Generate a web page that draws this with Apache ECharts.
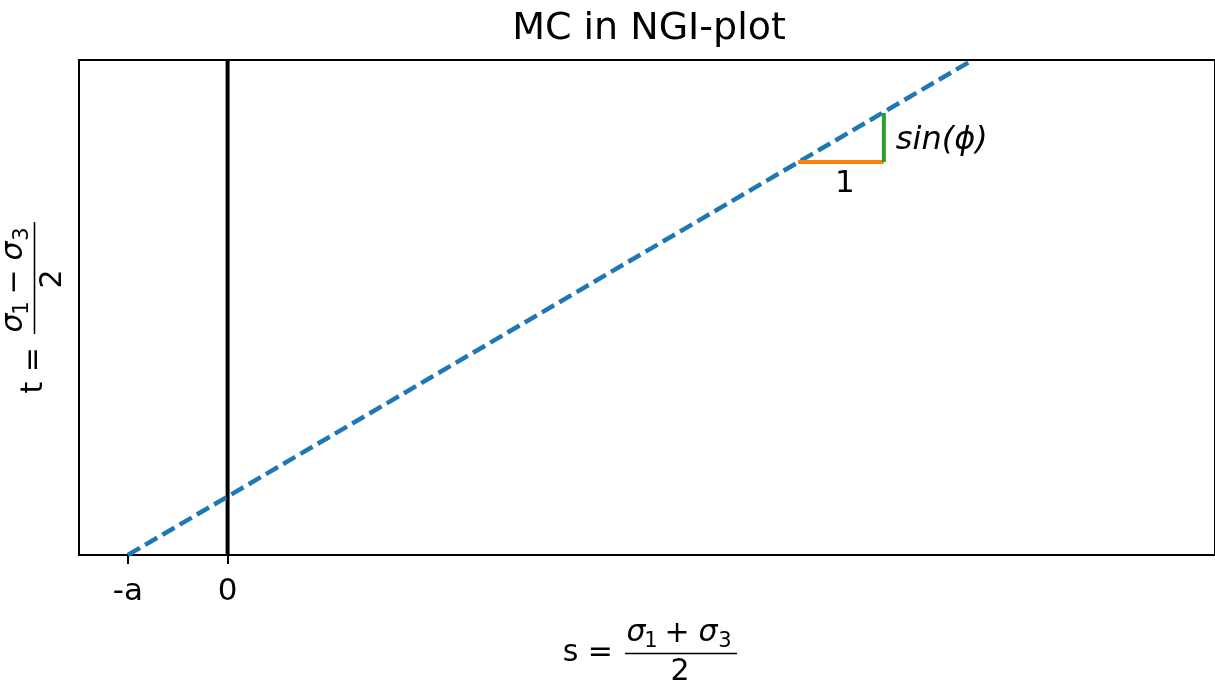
<!DOCTYPE html>
<html><head><meta charset="utf-8">
<script src="https://cdn.jsdelivr.net/npm/echarts@6/dist/echarts.min.js"></script>
<style>html,body{margin:0;padding:0;background:#fff}#c{width:1215px;height:683px}</style>
</head><body><div id="c"></div>
<script>
// ---- data ----
const titleText = 'MC in NGI-plot';
const xTickValues = [-1, 0];
const xTickLabels = ['-a', '0'];
const mcLine = [[-1, 0], [7.47, 4.95]];          // t = (s + a)·sin(phi), dashed
const zeroLine = [[0, 0], [0, 4.95]];            // s = 0
const runSegment = [[5.72, 3.93], [6.58, 3.93]]; // horizontal leg "1"
const riseSegment = [[6.58, 3.93], [6.58, 4.42]];// vertical leg "sin(phi)"
const runLabel = { value: [6.19, 3.93], text: '1' };
const riseLabel = { value: [6.58, 4.14], text: 'sin(ϕ)' };
const xNameParts = { lhs: 's =', op: '+' };
const yNameParts = { lhs: 't =', op: '−' };

const FONT = 'DejaVu Sans';
const FS = 30;

// builds the children of a "lhs = (σ1 op σ3)/2" label around the fraction bar centre (0,0)
function fractionChildren(parts, lhsRight) {
  const base = { fontFamily: FONT, fill: '#000', align: 'center', verticalAlign: 'middle' };
  const t = (x, y, text, extra) => ({ type: 'text', x, y, style: Object.assign({}, base, { text, fontSize: FS }, extra || {}) });
  return [
    t(lhsRight, 0, parts.lhs, { align: 'right' }),
    t(-45, -20, 'σ', { fontStyle: 'italic' }),
    t(-30, -12, '1', { fontSize: 21 }),
    t(-4, -19, parts.op),
    t(27, -20, 'σ', { fontStyle: 'italic' }),
    t(44, -12, '3', { fontSize: 21 }),
    { type: 'line', shape: { x1: -56, y1: 0, x2: 56, y2: 0 }, style: { stroke: '#000', lineWidth: 1.6 } },
    t(-1, 19, '2')
  ];
}

const chart = echarts.init(document.getElementById('c'), null, { renderer: 'canvas' });

chart.setOption({
  animation: false,
  backgroundColor: '#fff',
  title: {
    text: titleText, left: 644, top: 5, textAlign: 'center',
    textStyle: { fontFamily: FONT, fontSize: 38, fontWeight: 'normal', color: '#000' }
  },
  grid: { left: 79, top: 60, right: -3, bottom: 128, show: true, borderColor: '#000', borderWidth: 2, backgroundColor: 'transparent' },
  xAxis: {
    type: 'value', min: -1.49, max: 9.9,
    splitLine: { show: false },
    axisLine: { show: true, onZero: false, lineStyle: { color: '#000', width: 2 } },
    axisTick: { show: true, customValues: xTickValues, length: 9, lineStyle: { color: '#000', width: 2 } },
    axisLabel: {
      show: true, customValues: xTickValues, margin: 21,
      formatter: v => { const i = xTickValues.indexOf(v); return i >= 0 ? xTickLabels[i] : ''; },
      fontFamily: FONT, fontSize: 31, color: '#000'
    }
  },
  yAxis: {
    type: 'value', min: 0, max: 4.95,
    splitLine: { show: false },
    axisLine: { show: true, onZero: false, lineStyle: { color: '#000', width: 2 } },
    axisTick: { show: false },
    axisLabel: { show: false }
  },
  series: [
    {
      name: 'MC', type: 'line', data: mcLine, symbol: 'none', z: 3,
      lineStyle: { color: '#1f77b4', width: 4.5, type: [14, 6] }
    },
    {
      name: 's=0', type: 'line', data: zeroLine, symbol: 'none', z: 2,
      lineStyle: { color: '#000', width: 4 }
    },
    {
      name: 'run', type: 'line', data: runSegment, symbol: 'none', z: 4,
      lineStyle: { color: '#ff7f0e', width: 4 }
    },
    {
      name: 'rise', type: 'line', data: riseSegment, symbol: 'none', z: 4,
      lineStyle: { color: '#2ca02c', width: 4 }
    },
    {
      name: 'labels', type: 'scatter', symbolSize: 0, z: 5, silent: true,
      itemStyle: { opacity: 1 },
      label: { show: true, color: '#000', opacity: 1, fontFamily: FONT, fontSize: 31, textBorderWidth: 0 },
      data: [
        { value: runLabel.value, label: { position: 'bottom', distance: 6, formatter: runLabel.text } },
        { value: riseLabel.value, label: { position: 'right', distance: 12, formatter: riseLabel.text, fontSize: 32, fontStyle: 'italic' } }
      ]
    }
  ],
  graphic: [
    { type: 'group', x: 681, y: 653.5, silent: true, children: fractionChildren(xNameParts, -68) },
    { type: 'group', x: 34.5, y: 278, rotation: Math.PI / 2, silent: true, children: fractionChildren(yNameParts, -69) }
  ]
});
</script></body></html>
